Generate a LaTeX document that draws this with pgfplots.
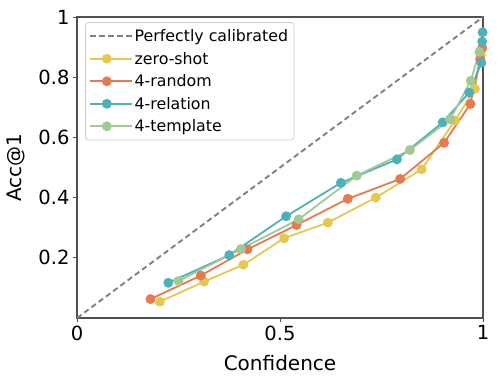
\documentclass[border=0pt]{standalone}
\usepackage{fontspec}
\setmainfont{DejaVu Sans}
\usepackage{pgfplots}
\pgfplotsset{compat=1.18}

\definecolor{cyel}{RGB}{230,200,80}
\definecolor{cora}{RGB}{229,121,80}
\definecolor{cteal}{RGB}{78,177,185}
\definecolor{cgrn}{RGB}{162,200,150}
\definecolor{axgray}{RGB}{80,80,80}

\begin{document}
\begin{tikzpicture}
\begin{axis}[
    name=ax,
    scale only axis,
    width=406pt, height=301pt,
    xmin=0, xmax=1, ymin=0, ymax=1,
    xtick={0,0.5,1}, xticklabels={0,0.5,1},
    ytick={0.2,0.4,0.6,0.8,1}, yticklabels={0.2,0.4,0.6,0.8,1},
    tick align=outside, tick pos=left,
    major tick length=4pt,
    axis line style={axgray, line width=1.4pt},
    every tick/.style={axgray, line width=0.8pt},
    tick label style={font=\fontsize{19.5}{22}\selectfont},
    /pgf/number format/assume math mode=true,
    xlabel={Confidence}, ylabel={Acc@1},
    label style={font=\fontsize{20}{23}\selectfont},
    xlabel style={at={(axis description cs:0.5,0)}, anchor=base, yshift=-52pt},
    ylabel style={at={(axis description cs:0,0.5)}, anchor=center, yshift=61pt},
    legend style={at={(0.02,0.983)}, anchor=north west,
        draw=black!20, rounded corners=3pt, line width=0.8pt,
        font=\fontsize{15.8}{18}\selectfont,
        row sep=5pt, inner xsep=4pt, inner ysep=5pt},
    legend cell align=left,
    legend image code/.code={
        \path (0cm,0cm) -- (1.45cm,0cm);
        \draw[#1] (0cm,0cm) -- (1.15cm,0cm);
        \draw[#1, only marks] plot coordinates {(0.575cm,0cm)};
    },
    every axis plot/.append style={line width=1.8pt, mark=*, mark size=4pt},
]
\addplot[gray, dash pattern=on 5.5pt off 3.5pt, line width=1.9pt, no marks] coordinates {(0,0) (1,1)};
\addlegendentry{Perfectly calibrated}
\addplot[cyel, mark options={fill=cyel}] coordinates {
    (0.204,0.054) (0.313,0.121) (0.410,0.177) (0.510,0.265) (0.618,0.317)
    (0.736,0.400) (0.849,0.494) (0.931,0.656) (0.980,0.761) (0.995,0.875)
};
\addlegendentry{zero-shot}
\addplot[cora, mark options={fill=cora}] coordinates {
    (0.181,0.063) (0.305,0.141) (0.420,0.228) (0.541,0.309) (0.667,0.396)
    (0.796,0.462) (0.904,0.582) (0.969,0.711) (0.993,0.860) (0.998,0.897)
};
\addlegendentry{4-random}
\addplot[cteal, mark options={fill=cteal}] coordinates {
    (0.225,0.117) (0.375,0.209) (0.515,0.338) (0.650,0.449) (0.788,0.527)
    (0.901,0.650) (0.966,0.749) (0.996,0.848) (0.998,0.918) (0.999,0.949)
};
\addlegendentry{4-relation}
\addplot[cgrn, mark options={fill=cgrn}] coordinates {
    (0.250,0.123) (0.404,0.229) (0.546,0.328) (0.689,0.473) (0.820,0.558)
    (0.919,0.660) (0.970,0.788) (0.991,0.884)
};
\addlegendentry{4-template}
\end{axis}
\path (ax.south west) ++(-77pt,-65pt) rectangle ++(498pt,383pt);
\end{tikzpicture}
\end{document}
